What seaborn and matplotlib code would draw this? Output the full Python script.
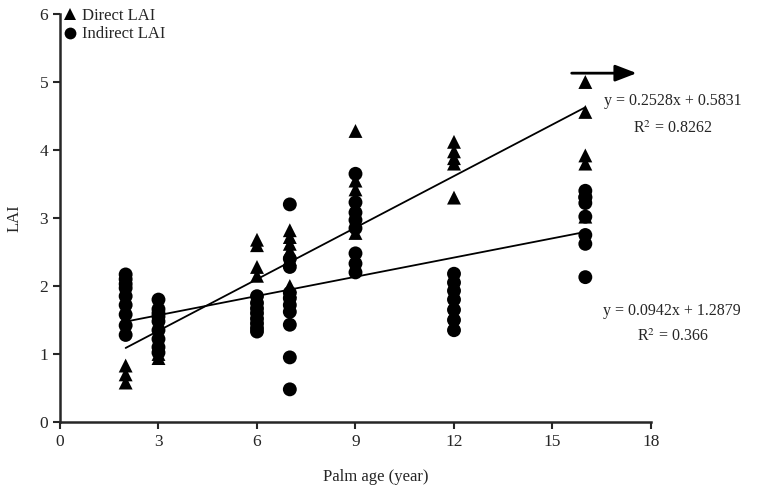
import numpy as np
import pandas as pd
import matplotlib
matplotlib.use("Agg")
import matplotlib.pyplot as plt
import seaborn as sns

# palm age -> LAI values
direct_age = [2, 2, 2, 3, 3,
              6, 6, 6, 6,
              7, 7, 7, 7, 7, 7, 7,
              9, 9, 9, 9,
              12, 12, 12, 12, 12,
              16, 16, 16, 16, 16]
direct_lai = [0.83, 0.70, 0.58, 1.00, 0.94,
              2.68, 2.60, 2.28, 2.15,
              2.82, 2.72, 2.62, 2.52, 2.40, 2.00, 1.93,
              4.28, 3.55, 3.42, 2.78,
              4.12, 3.98, 3.88, 3.80, 3.30,
              5.00, 4.56, 3.92, 3.80, 3.02]

indirect_age = [2] * 9 + [3] * 9 + [6] * 8 + [7] * 10 + [9] * 8 + [12] * 7 + [16] * 8
indirect_lai = [2.17, 2.10, 1.97, 1.85, 1.72, 1.58, 1.42, 1.28, 2.03,
                1.80, 1.66, 1.55, 1.48, 1.35, 1.22, 1.10, 1.02, 1.60,
                1.85, 1.75, 1.67, 1.60, 1.52, 1.45, 1.38, 1.33,
                3.20, 2.40, 2.28, 1.90, 1.82, 1.72, 1.62, 1.43, 0.95, 0.48,
                3.65, 3.23, 3.08, 2.97, 2.85, 2.48, 2.33, 2.20,
                2.18, 2.05, 1.93, 1.80, 1.65, 1.50, 1.35,
                3.40, 3.31, 3.22, 3.02, 2.75, 2.62, 2.13, 3.30]

# regression lines given on the chart
slopes = [0.2528, 0.0942]
intercepts = [0.5831, 1.2879]
r2 = ["0.8262", "0.366"]

df = pd.DataFrame({
    "age": direct_age + indirect_age,
    "LAI": direct_lai + indirect_lai,
    "type": ["Direct LAI"] * len(direct_age) + ["Indirect LAI"] * len(indirect_age),
})

sns.set_style("ticks")
plt.rcParams["font.family"] = ["Liberation Serif", "DejaVu Serif"]
plt.rcParams["mathtext.fontset"] = "stix"

fig = plt.figure(figsize=(7.75, 4.95), dpi=100)
ax = fig.add_axes([0.0774, 0.1475, 0.7626, 0.8242])

sns.scatterplot(data=df, x="age", y="LAI", style="type",
                markers={"Direct LAI": "^", "Indirect LAI": "o"},
                color="black", s=100, edgecolor="black", linewidth=0, ax=ax)

xs = np.array([min(direct_age), max(direct_age)])
for m, b in zip(slopes, intercepts):
    ax.plot(xs, m * xs + b, color="black", lw=1.3)

ax.set_xlim(0, 18)
ax.set_ylim(0, 6)
ax.set_xticks(range(0, 19, 3))
ax.set_yticks(range(0, 7))
ax.tick_params(labelsize=12.5, width=1.5, length=5, direction="out")
for side in ["left", "bottom"]:
    ax.spines[side].set_linewidth(1.8)
sns.despine(ax=ax)
ax.set_xlabel("Palm age (year)", fontsize=12)
ax.xaxis.set_label_coords(0.535, -0.115)
ax.set_ylabel("LAI", fontsize=12, labelpad=12)

leg = ax.legend(loc="upper left", frameon=False, fontsize=12, handletextpad=0.1,
                borderaxespad=0.0, borderpad=0.0, labelspacing=0.15,
                handlelength=1.2, markerscale=0.85,
                bbox_to_anchor=(0.0, 1.015))

ax.annotate("", xy=(17.65, 5.13), xytext=(15.5, 5.13),
            arrowprops=dict(arrowstyle="-|>,head_length=1.3,head_width=0.5",
                            color="black", lw=2))

ax.text(18.65, 4.72, "y = %.4fx + %.4f" % (slopes[0], intercepts[0]),
        fontsize=11.5, ha="center", va="center")
ax.text(18.65, 4.32, "R$^{2}$ = " + r2[0], fontsize=11.5, ha="center", va="center")
ax.text(18.65, 1.63, "y = %.4fx + %.4f" % (slopes[1], intercepts[1]),
        fontsize=11.5, ha="center", va="center")
ax.text(18.65, 1.25, "R$^{2}$ = " + r2[1], fontsize=11.5, ha="center", va="center")

fig.savefig("out.png", dpi=100)
